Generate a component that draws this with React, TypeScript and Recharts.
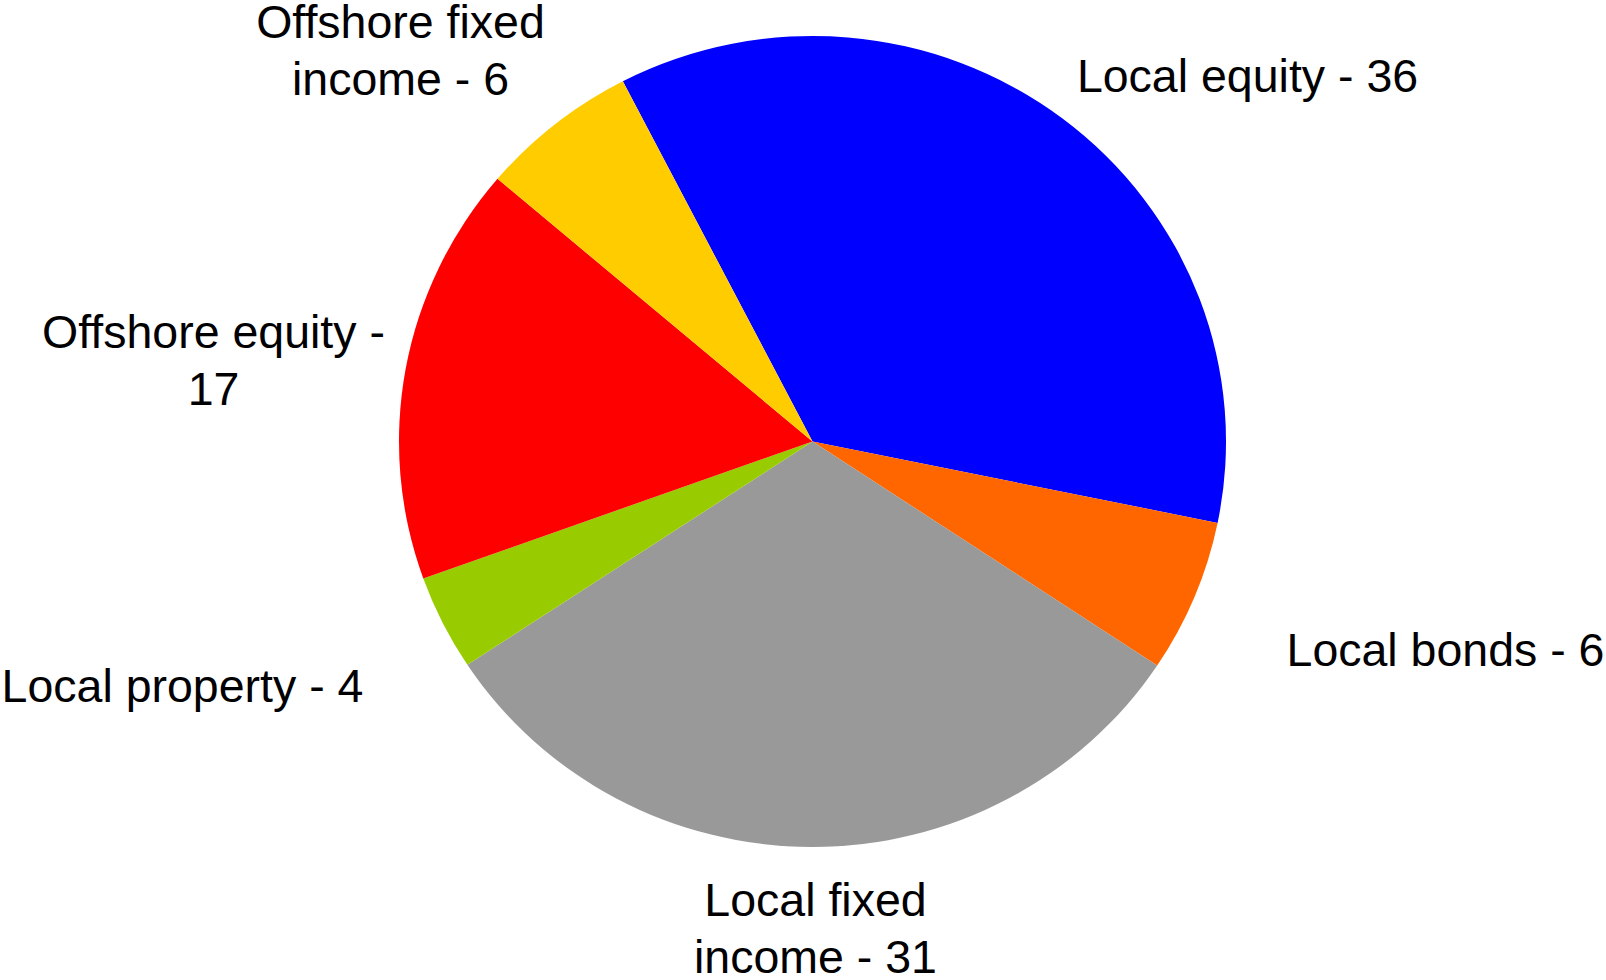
import React from "react";
import { PieChart, Pie, Cell, Sector } from "recharts";

// ---- data ----
const categories = [
  "Local equity",
  "Local bonds",
  "Local fixed income",
  "Local property",
  "Offshore equity",
  "Offshore fixed income",
];
const values = [35.8, 6.1, 31.4, 3.8, 16.7, 6.2];
const colors = ["#0000FF", "#FF6600", "#999999", "#99CC00", "#FF0000", "#FFCC00"];

// ---- label layout (offset of text block centre from pie centre, and wrap point in words) ----
const labelLayout = [
  { dx: 435, dy: -366, breakAfter: 0 },
  { dx: 633, dy: 208, breakAfter: 0 },
  { dx: 3, dy: 487, breakAfter: 2 },
  { dx: -630, dy: 244, breakAfter: 0 },
  { dx: -599, dy: -81, breakAfter: 3 },
  { dx: -412, dy: -391, breakAfter: 2 },
];

const data = categories.map((name, i) => ({ name, value: values[i] }));

const FONT = "'Liberation Sans', Arial, sans-serif";
const FONT_SIZE = 46.5;
const LINE_H = 57;
// slightly elliptical pie, as in the original
const SX = 1.0098;
const SY = 0.9902;

const renderLabel = (props: any) => {
  const { cx, cy, index } = props;
  const lay = labelLayout[index];
  const text = `${categories[index]} - ${Math.round(values[index])}`;
  const words = text.split(" ");
  const lines =
    lay.breakAfter > 0
      ? [words.slice(0, lay.breakAfter).join(" "), words.slice(lay.breakAfter).join(" ")]
      : [text];
  const x = cx + lay.dx;
  const y0 = cy + lay.dy - ((lines.length - 1) * LINE_H) / 2;
  return (
    <text
      key={`lbl-${index}`}
      x={x}
      y={y0}
      textAnchor="middle"
      dominantBaseline="central"
      fontFamily={FONT}
      fontSize={FONT_SIZE}
      fill="#000"
    >
      {lines.map((ln, i) => (
        <tspan key={i} x={x} y={y0 + i * LINE_H}>
          {ln}
        </tspan>
      ))}
    </text>
  );
};

const ellipseShape = (props: any) => {
  const { cx, cy } = props;
  return (
    <g transform={`translate(${cx},${cy}) scale(${SX},${SY}) translate(${-cx},${-cy})`}>
      <Sector {...props} />
    </g>
  );
};

export default function App() {
  return (
    <div style={{ position: "absolute", left: 0, top: 0, width: 1606, height: 980, background: "#fff" }}>
      <PieChart width={1606} height={980} margin={{ top: 0, right: 0, bottom: 0, left: 0 }}>
        <Pie
          data={data}
          dataKey="value"
          nameKey="name"
          cx={812.5}
          cy={441.5}
          outerRadius={409.5}
          startAngle={117.3}
          endAngle={-242.7}
          stroke="none"
          shape={ellipseShape}
          label={renderLabel}
          labelLine={false}
          isAnimationActive={false}
        >
          {data.map((d, i) => (
            <Cell key={d.name} fill={colors[i]} />
          ))}
        </Pie>
      </PieChart>
    </div>
  );
}
